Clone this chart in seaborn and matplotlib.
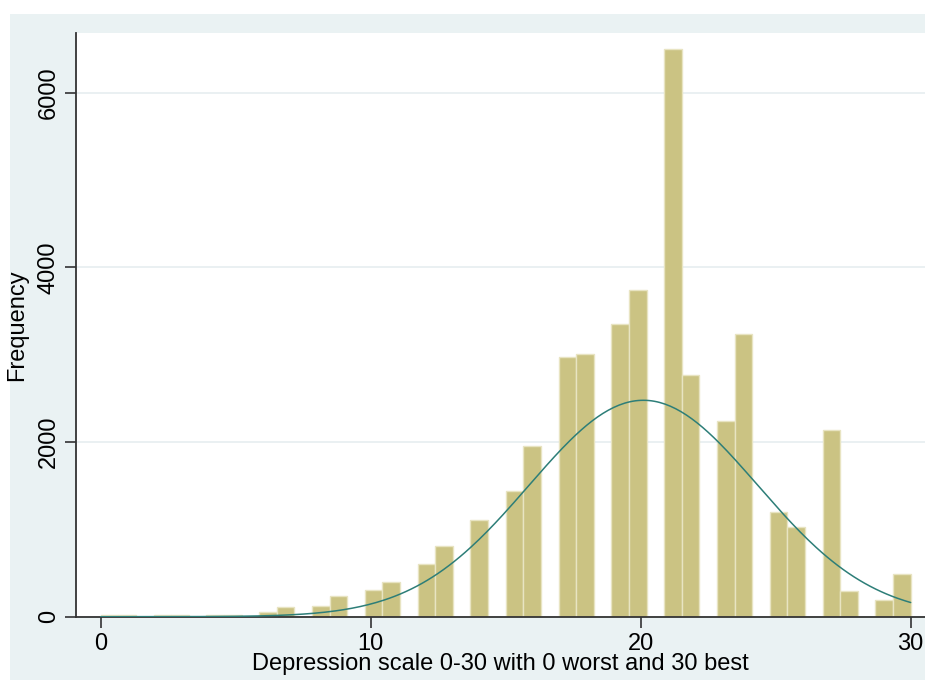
import numpy as np
import pandas as pd
import matplotlib
matplotlib.use("Agg")
import matplotlib.pyplot as plt
import seaborn as sns
from matplotlib.patches import Rectangle

# depression score (0-30) and how many respondents had each score
score = list(range(31))
frequency = [20, 20, 20, 20, 20, 20, 50, 115, 120, 235,
             300, 400, 600, 805, 1105, 1435, 1960, 2975, 3010, 3355,
             3740, 6505, 2770, 2240, 3240, 1195, 1025, 2140, 290, 190,
             490]

# normal overlay
normal_mean = 20.1
normal_sd = 4.24
normal_peak = 2478

x_ticks = [0, 10, 20, 30]
y_ticks = [0, 2000, 4000, 6000]

BAND = "#EAF2F3"
GRID = "#E6EEF0"
BAR = "#CBC383"
EDGE = "#E8E4C2"
CURVE = "#2D7E78"
AXIS = "#333333"

sns.set_theme(style="white")
plt.rcParams["font.family"] = ["Liberation Sans", "DejaVu Sans"]

df = pd.DataFrame({"score": score, "frequency": frequency})

W, H = 925, 680
fig = plt.figure(figsize=(W / 100, H / 100), dpi=100, facecolor="white")
band = Rectangle((10 / W, 0), (W - 10) / W, (H - 14) / H,
                 transform=fig.transFigure, facecolor=BAND,
                 edgecolor="none", zorder=-10)
fig.add_artist(band)
ax = fig.add_axes([76.3 / W, (H - 616.7) / H, (W - 76.3) / W, 584 / H])
ax.set_zorder(1)
ax.set_facecolor("white")

sns.histplot(data=df, x="score", weights="frequency", bins=46, binrange=(0, 30),
             color=BAR, edgecolor=EDGE, linewidth=1, alpha=1, ax=ax, zorder=2)

xs = np.linspace(0, 30, 301)
ys = normal_peak * np.exp(-0.5 * ((xs - normal_mean) / normal_sd) ** 2)
sns.lineplot(x=xs, y=ys, color=CURVE, linewidth=1.1, ax=ax, zorder=3)

ax.set_xlim(-0.904, 30.53)
ax.set_ylim(0, 6687)
ax.set_xticks(x_ticks)
ax.set_yticks(y_ticks)
ax.yaxis.grid(True, color=GRID, linewidth=1.2)
ax.xaxis.grid(False)
ax.set_axisbelow(True)

sns.despine(ax=ax)
for side in ["left", "bottom"]:
    ax.spines[side].set_color(AXIS)
    ax.spines[side].set_linewidth(1.3)

ax.tick_params(axis="both", direction="out", length=8, width=1.2, color=AXIS,
               pad=4, labelsize=17, labelcolor="black", bottom=True, left=True)
ax.tick_params(axis="y", labelrotation=90)
plt.setp(ax.get_yticklabels(), va="center")

ax.set_xlabel("Depression scale 0-30 with 0 worst and 30 best", fontsize=17, color="black")
ax.set_ylabel("Frequency", fontsize=17, color="black")
ax.xaxis.set_label_coords(0.5, -0.063)
ax.yaxis.set_label_coords(-0.0563, 0.5)

fig.savefig("out.png", dpi=100)
